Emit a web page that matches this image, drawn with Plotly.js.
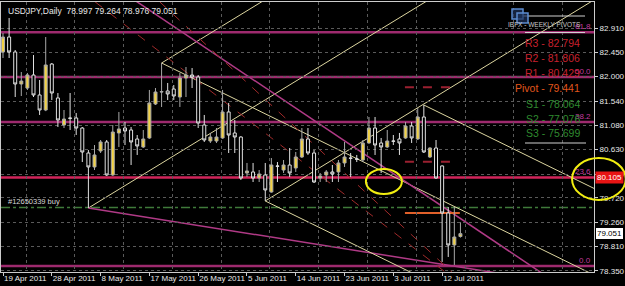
<!DOCTYPE html>
<html><head><meta charset="utf-8">
<script src="https://cdn.plot.ly/plotly-3.0.1.min.js"></script>
<style>html,body{margin:0;padding:0;background:#000;}#chart{width:625px;height:286px;}</style>
</head><body><div id="chart"></div>
<script>
// ---- data (USDJPY daily) ----
const opens  = [82.460,82.741,82.460,81.859,81.784,82.028,81.653,81.371,82.234,81.597,
                81.090,81.221,81.221,81.033,80.564,80.302,80.602,80.771,80.152,80.940,
                81.033,80.996,80.827,80.677,80.846,81.484,81.709,81.728,81.765,81.615,
                81.972,82.028,81.990,81.090,80.789,80.789,80.846,81.334,80.940,80.864,
                80.189,80.208,80.095,80.152,79.832,80.321,80.245,80.339,80.283,80.489,
                80.827,80.564,80.095,80.152,80.208,80.208,80.377,80.470,80.452,80.433,
                80.752,81.033,80.752,80.677,80.789,80.827,80.846,81.071,80.827,81.240,
                80.489,80.658,80.321,79.438,78.838,78.997];
const highs  = [82.816,83.098,82.497,82.084,82.066,82.403,81.934,82.741,82.253,81.690,
                81.371,81.690,81.315,81.052,80.620,80.714,80.808,80.808,81.090,81.334,
                81.146,81.052,80.902,80.996,81.747,81.784,82.253,81.878,81.840,82.066,
                82.178,82.159,82.028,81.278,80.940,81.033,81.747,81.503,81.184,80.880,
                80.377,80.377,80.245,80.377,80.470,80.395,80.433,80.658,80.583,81.033,
                81.033,80.620,80.189,80.245,80.339,80.433,80.771,80.564,80.527,80.808,
                81.240,81.240,80.846,80.996,80.902,80.940,81.146,81.146,81.409,81.465,
                80.670,80.808,80.330,79.551,79.551,79.264];
const lows   = [82.347,82.347,81.615,81.634,81.747,81.615,81.278,81.350,81.559,81.052,
                81.033,80.996,80.902,80.395,79.532,80.245,80.564,80.133,80.133,80.677,
                80.714,80.339,80.527,80.658,80.830,81.465,81.428,81.559,81.559,81.428,
                81.615,81.784,81.033,80.771,80.752,80.752,80.830,80.564,80.564,80.058,
                80.114,80.020,80.020,79.664,79.820,80.020,80.189,80.114,80.208,80.470,
                80.527,80.001,80.020,80.020,80.020,80.020,80.302,80.114,80.395,80.395,
                80.740,80.527,80.189,80.658,80.714,80.527,80.830,80.752,80.810,80.564,
                80.470,80.080,78.519,78.613,78.463,78.976];
const closes = [82.741,82.460,81.859,81.915,82.028,81.653,81.371,82.216,81.690,81.184,
                81.202,81.215,81.033,80.583,80.302,80.527,80.771,80.152,80.958,81.015,
                80.977,80.771,80.696,80.827,81.503,81.709,81.715,81.672,81.634,81.972,
                82.028,81.990,81.127,80.808,80.864,80.864,81.334,80.902,80.864,80.095,
                80.227,80.095,80.170,79.870,80.339,80.315,80.339,80.189,80.489,80.827,
                80.564,80.020,80.133,80.208,80.170,80.377,80.489,80.465,80.450,80.752,
                81.033,80.714,80.677,80.789,80.785,80.752,81.071,80.846,81.240,80.583,
                80.658,80.095,79.438,78.838,78.988,79.051];

const dateTickBars   = [0,8,16,24,32,40,48,56,64,72];
const dateTickLabels = ['19 Apr 2011','28 Apr 2011','8 May 2011','17 May 2011','26 May 2011',
                        '5 Jun 2011','14 Jun 2011','23 Jun 2011','3 Jul 2011','12 Jul 2011'];
const priceTicks = [82.910,82.450,82.000,81.540,81.080,80.630,80.170,79.720,79.260,78.810,78.350];

const fibLabels = ['0.0','23.6','38.2','50.0','61.8'];
const fibPrices = [78.444,80.105,81.147,81.990,82.832];

const pivotNames  = ['R3','R2','R1','Pivot','S1','S2','S3'];
const pivotValues = [82.794,81.806,80.429,79.441,78.064,77.076,75.699];

const orderLabel = '#12650339 buy';
const orderPrice = 79.540;

// drawn objects (bar index, price)
const anchorA = [14, 79.532];
const anchorB = [26, 82.253];
const anchorC = [43, 79.664];
const anchorD = [69, 81.465];
const slopeUp = 0.0700, slopeDown = -0.0561, slopeLow = -0.0182;
const magentaLine = [[21.6, 83.43], [86.4, 78.46]];
const redDash1 = [[15.1, 83.40], [71.6, 78.41]];
const redDash2 = [[25.7, 83.40], [70.0, 78.71]];
const shortDash = [81.80, 80.40];
const orangeLevel = 79.438;
const segBars = [65.9, 74.1, 74.9];
const circleLeft  = [59.5, 65.4, 79.795, 80.264];
const circleRight = [93.3, 102.1, 79.683, 80.470];

// ---- build ----
const N = opens.length;
const xs = Array.from({length: N}, (_, i) => i);
const xRange = [-0.33, 96.9];
const yRange = [78.331, 83.398];
const FONT = 'Liberation Sans, Arial, sans-serif';
const yellowLine = '#ddd6a0';

function ray(a, slope, color, width, dash) {
  const x1 = 130;
  return {type:'line', xref:'x', yref:'y', layer:'below',
          x0:a[0], y0:a[1], x1:x1, y1:a[1] + slope*(x1 - a[0]),
          line:{color:color, width:width, dash:dash||'solid'}};
}
function seg(p, q, color, width, dash) {
  const s = (q[1]-p[1])/(q[0]-p[0]);
  return ray(p, s, color, width, dash);
}
const PX = px => (px - 1) / 593;
const PY = py => (272 - py) / 270;
const dx2p = x => (x - xRange[0]) / (xRange[1] - xRange[0]);
const dy2p = y => (y - yRange[0]) / (yRange[1] - yRange[0]);

const shapes = [];
fibPrices.forEach((p, i) => {
  shapes.push({type:'line', xref:'paper', yref:'y', layer:'below', x0:0, x1:1, y0:p, y1:p,
    line:{color: i === 1 ? '#d0245a' : '#9e2a6e', width: 2.5}});
});
shapes.push({type:'line', xref:'paper', yref:'y', layer:'below', x0:0, x1:1, y0:orderPrice, y1:orderPrice,
  line:{color:'#3f7a3a', width:1.5, dash:'dashdot'}});
shapes.push({type:'line', xref:'paper', yref:'y', layer:'below', x0:0, x1:1, y0:closes[N-1], y1:closes[N-1],
  line:{color:'#000000', width:1}});
shapes.push(ray(anchorA, slopeUp, yellowLine, 1));
shapes.push(ray(anchorA, slopeLow, '#b03a86', 1.5));
shapes.push(ray(anchorB, slopeUp, yellowLine, 1));
shapes.push(ray(anchorB, slopeDown, yellowLine, 1));
shapes.push(ray(anchorC, slopeUp, yellowLine, 1));
shapes.push(ray(anchorC, slopeDown, yellowLine, 1));
shapes.push(ray(anchorD, slopeDown, yellowLine, 1));
shapes.push(seg(magentaLine[0], magentaLine[1], '#b03a86', 1.5));
shapes.push(seg(redDash1[0], redDash1[1], '#a02a2a', 1, 'dash'));
shapes.push(seg(redDash2[0], redDash2[1], '#a02a2a', 1, 'dash'));
shortDash.forEach(p => shapes.push({type:'line', xref:'x', yref:'y', layer:'below',
  x0:segBars[0], x1:segBars[1], y0:p, y1:p, line:{color:'#9a2030', width:2, dash:'dash'}}));
shapes.push({type:'line', xref:'x', yref:'y', layer:'below',
  x0:segBars[0], x1:segBars[2], y0:orangeLevel, y1:orangeLevel, line:{color:'#e0602a', width:2}});
shapes.push({type:'circle', xref:'x', yref:'y', layer:'above',
  x0:circleLeft[0], x1:circleLeft[1], y0:circleLeft[2], y1:circleLeft[3],
  line:{color:'#f2ee10', width:2}});
shapes.push({type:'circle', xref:'paper', yref:'paper', layer:'above',
  x0:dx2p(circleRight[0]), x1:dx2p(circleRight[1]), y0:dy2p(circleRight[2]), y1:dy2p(circleRight[3]),
  line:{color:'#f2ee10', width:2}});
shapes.push({type:'line', xref:'paper', yref:'paper', x0:PX(523), x1:PX(585), y0:PY(16), y1:PY(16), line:{color:'#d0d0d0', width:1}});
shapes.push({type:'line', xref:'paper', yref:'paper', x0:PX(525), x1:PX(585), y0:PY(32.5), y1:PY(32.5), line:{color:'#d0d0d0', width:1}});
shapes.push({type:'line', xref:'paper', yref:'paper', x0:PX(525), x1:PX(586), y0:PY(143), y1:PY(143), line:{color:'#d0d0d0', width:1}});
shapes.push({type:'rect', xref:'paper', yref:'paper', x0:PX(512), x1:PX(523), y0:PY(19), y1:PY(9), line:{color:'#5b8bd0', width:1.5}, fillcolor:'rgba(30,50,90,0.7)'});
shapes.push({type:'rect', xref:'paper', yref:'paper', x0:PX(517), x1:PX(528), y0:PY(23), y1:PY(13), line:{color:'#5b8bd0', width:1.5}, fillcolor:'rgba(30,50,90,0.7)'});

const annotations = [];
const last = N - 1;
annotations.push({xref:'paper', yref:'paper', x:PX(6), y:PY(11), xanchor:'left', yanchor:'middle', showarrow:false,
  text:'USDJPY,Daily  ' + [opens[last], highs[last], lows[last], closes[last]].map(v => v.toFixed(3)).join(' '),
  font:{family:FONT, size:8.5, color:'#e8e8e8'}});
annotations.push({xref:'paper', yref:'y', x:PX(6), y:orderPrice, xanchor:'left', yanchor:'bottom', showarrow:false,
  text:orderLabel, font:{family:FONT, size:7.5, color:'#d8d8d8'}});
fibLabels.forEach((t, i) => annotations.push({xref:'paper', yref:'y', x:1, y:fibPrices[i], xanchor:'right', yanchor:'bottom',
  xshift:-1, yshift:-1, showarrow:false, text:t, font:{family:FONT, size:8, color:'#c23a9e'}}));
annotations.push({xref:'paper', yref:'paper', x:PX(583), y:PY(25), xanchor:'right', yanchor:'middle', showarrow:false,
  text:'IBFX - WEEKLY PIVOTS', font:{family:FONT, size:6.5, color:'#c8c8c8'}});
const pivotColors = ['#c8202e','#c8202e','#c8202e','#e2561c','#2f8a2f','#2f8a2f','#2f8a2f'];
const pivotY = [43, 58, 73, 88, 104, 119, 133];
pivotNames.forEach((n, i) => annotations.push({xref:'paper', yref:'paper', x:PX(582), y:PY(pivotY[i]),
  xanchor:'right', yanchor:'middle', showarrow:false, text:n + ' - ' + pivotValues[i].toFixed(3),
  font:{family:FONT, size:10.5, color:pivotColors[i]}}));
annotations.push({xref:'paper', yref:'y', x:1, y:fibPrices[1], xanchor:'left', yanchor:'middle', xshift:1, showarrow:false,
  text:fibPrices[1].toFixed(3), bgcolor:'#e81414', borderpad:1, font:{family:FONT, size:8, color:'#ffffff'}});
annotations.push({xref:'paper', yref:'y', x:1, y:closes[last], xanchor:'left', yanchor:'middle', xshift:1, showarrow:false,
  text:closes[last].toFixed(3), bgcolor:'#ffffff', bordercolor:'#000', borderpad:1, font:{family:FONT, size:8, color:'#000000'}});

const trace = {
  type:'candlestick', x:xs, open:opens, high:highs, low:lows, close:closes,
  increasing:{line:{color:'#a8a8a8', width:1}, fillcolor:'#f2d244'},
  decreasing:{line:{color:'#e0e0e0', width:1}, fillcolor:'#000000'},
  whiskerwidth:0, hoverinfo:'skip', showlegend:false
};

const layout = {
  width:625, height:286,
  margin:{l:1, r:31, t:2, b:14, pad:0},
  paper_bgcolor:'#000', plot_bgcolor:'#000',
  showlegend:false,
  xaxis:{range:xRange, tickvals:dateTickBars, ticktext:dateTickLabels, tickmode:'array', tickangle:0,
    ticklabelposition:'outside right', ticklabelstandoff:-2, ticks:'outside', ticklen:3, tickcolor:'#cccccc',
    tickfont:{family:FONT, size:8, color:'#e8e8e8'}, showgrid:false, zeroline:false,
    showline:true, linecolor:'#cccccc', linewidth:1, mirror:true,
    rangeslider:{visible:false}, fixedrange:true, automargin:false,
    minor:{tick0:3.77, dtick:8, showgrid:true, gridcolor:'#5a5a5a', griddash:'dot', gridwidth:1, ticks:''}},
  yaxis:{range:yRange, side:'right', tickmode:'array', tickvals:priceTicks, ticktext:priceTicks.map(v => v.toFixed(3)),
    ticks:'outside', ticklen:3, tickcolor:'#cccccc', tickfont:{family:FONT, size:8, color:'#e8e8e8'},
    showgrid:true, gridcolor:'#5a5a5a', griddash:'dot', gridwidth:1, zeroline:false, automargin:false,
    showline:true, linecolor:'#cccccc', linewidth:1, mirror:true, fixedrange:true},
  shapes:shapes, annotations:annotations
};

Plotly.newPlot('chart', [trace], layout, {staticPlot:true, displayModeBar:false});
</script></body></html>
